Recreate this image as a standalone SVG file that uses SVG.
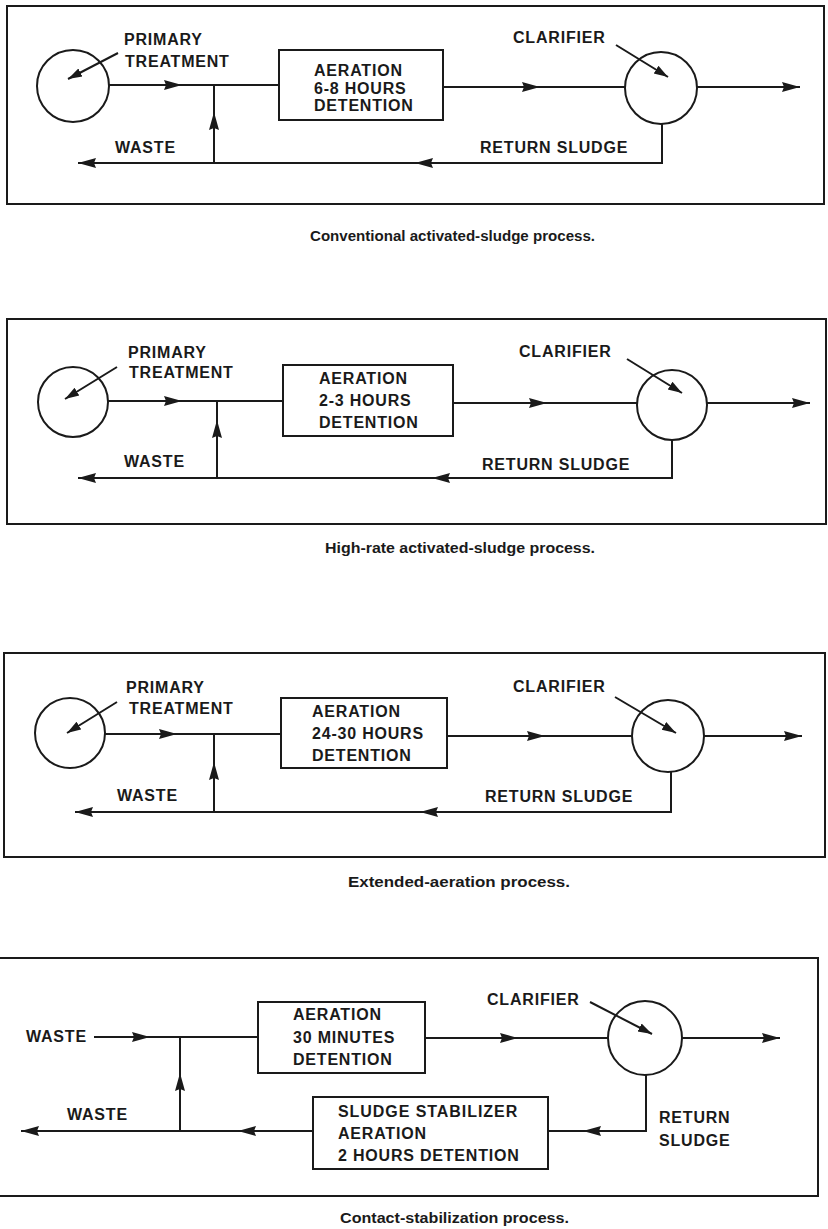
<svg xmlns="http://www.w3.org/2000/svg" xmlns:xlink="http://www.w3.org/1999/xlink" width="828" height="1229" viewBox="0 0 828 1229">
  <style>
    .frame { fill: none; stroke: #1a1a1a; stroke-width: 2; }
    .vessel { fill: #ffffff; stroke: #1a1a1a; stroke-width: 2; }
    .flow { fill: none; stroke: #1a1a1a; stroke-width: 2; }
    .ptr { fill: none; stroke: #1a1a1a; stroke-width: 2; marker-end: url(#ptrHead); }
    .end { marker-end: url(#flowHead); }
    .head { fill: #1a1a1a; }
    .lbl { font-family: "Liberation Sans", Arial, sans-serif; font-weight: bold; font-size: 16px; letter-spacing: 0.8px; fill: #1a1a1a; }
    .cap { font-family: "Liberation Sans", Arial, sans-serif; font-weight: bold; font-size: 14px; fill: #1a1a1a; }
  </style>
  <defs>
    <!-- flow-direction head, tip at the origin, pointing +x -->
    <path id="ah" d="M0,0 L-18,-5 L-16,0 L-18,5 Z"/>
    <marker id="flowHead" markerUnits="userSpaceOnUse" markerWidth="19" markerHeight="11" refX="18" refY="5.5" orient="auto">
      <path d="M0,0.5 L18,5.5 L0,10.5 L2,5.5 Z" fill="#1a1a1a"/>
    </marker>
    <marker id="ptrHead" markerUnits="userSpaceOnUse" markerWidth="15" markerHeight="11" refX="14" refY="5.5" orient="auto">
      <path d="M0,1 L14,5.5 L0,10 Z" fill="#1a1a1a"/>
    </marker>
  </defs>
  <rect width="828" height="1229" fill="#ffffff"/>

  <!-- ===== Conventional activated-sludge process ===== -->
  <g id="conventional">
    <rect class="frame" x="7" y="6" width="817" height="198"/>
    <g id="conv-primary">
      <circle class="vessel" cx="73" cy="86" r="36"/>
      <text class="lbl" x="124" y="45">PRIMARY</text>
      <text class="lbl" x="125" y="67">TREATMENT</text>
      <line class="ptr" x1="118" y1="53" x2="68" y2="79"/>
    </g>
    <g id="conv-aeration">
      <rect class="vessel" x="279" y="50" width="164" height="70"/>
      <text class="lbl" x="314" y="76">AERATION</text>
      <text class="lbl" x="314" y="93.5">6-8 HOURS</text>
      <text class="lbl" x="314" y="111">DETENTION</text>
    </g>
    <g id="conv-clarifier">
      <circle class="vessel" cx="661" cy="88" r="36"/>
      <text class="lbl" x="513" y="43">CLARIFIER</text>
      <line class="ptr" x1="616" y1="45" x2="668" y2="77"/>
    </g>
    <g id="conv-connectors">
      <line class="flow" x1="109" y1="85" x2="279" y2="85"/>
      <use href="#ah" class="head" transform="translate(182,85)"/>
      <line class="flow" x1="214" y1="163" x2="214" y2="85"/>
      <use href="#ah" class="head" transform="translate(214,112) rotate(-90)"/>
      <line class="flow" x1="443" y1="87" x2="625" y2="87"/>
      <use href="#ah" class="head" transform="translate(540,87)"/>
      <line class="flow end" x1="697" y1="87" x2="800" y2="87"/>
      <polyline class="flow end" points="662,124 662,163 78,163"/>
      <use href="#ah" class="head" transform="translate(415,163) rotate(180)"/>
      <text class="lbl" x="115" y="153">WASTE</text>
      <text class="lbl" x="480" y="153">RETURN SLUDGE</text>
    </g>
    <text class="cap" x="310" y="241" textLength="285" lengthAdjust="spacingAndGlyphs">Conventional activated-sludge process.</text>
  </g>

  <!-- ===== High-rate activated-sludge process ===== -->
  <g id="high-rate">
    <rect class="frame" x="7" y="319" width="819" height="205"/>
    <g id="hr-primary">
      <circle class="vessel" cx="73" cy="402" r="35"/>
      <text class="lbl" x="128" y="358">PRIMARY</text>
      <text class="lbl" x="129" y="378">TREATMENT</text>
      <line class="ptr" x1="117" y1="367" x2="65" y2="399"/>
    </g>
    <g id="hr-aeration">
      <rect class="vessel" x="283" y="365" width="170" height="71"/>
      <text class="lbl" x="319" y="384">AERATION</text>
      <text class="lbl" x="319" y="406">2-3 HOURS</text>
      <text class="lbl" x="319" y="428">DETENTION</text>
    </g>
    <g id="hr-clarifier">
      <circle class="vessel" cx="672" cy="405" r="35"/>
      <text class="lbl" x="519" y="357">CLARIFIER</text>
      <line class="ptr" x1="627" y1="359" x2="682" y2="393"/>
    </g>
    <g id="hr-connectors">
      <line class="flow" x1="108" y1="401" x2="283" y2="401"/>
      <use href="#ah" class="head" transform="translate(182,401)"/>
      <line class="flow" x1="217" y1="478" x2="217" y2="401"/>
      <use href="#ah" class="head" transform="translate(217,420) rotate(-90)"/>
      <line class="flow" x1="453" y1="403" x2="637" y2="403"/>
      <use href="#ah" class="head" transform="translate(547,403)"/>
      <line class="flow end" x1="707" y1="403" x2="810" y2="403"/>
      <polyline class="flow end" points="672,440 672,478 78,478"/>
      <use href="#ah" class="head" transform="translate(432,478) rotate(180)"/>
      <text class="lbl" x="124" y="467">WASTE</text>
      <text class="lbl" x="482" y="470">RETURN SLUDGE</text>
    </g>
    <text class="cap" x="325" y="553" textLength="270" lengthAdjust="spacingAndGlyphs">High-rate activated-sludge process.</text>
  </g>

  <!-- ===== Extended-aeration process ===== -->
  <g id="extended">
    <rect class="frame" x="4" y="653" width="821" height="204"/>
    <g id="ext-primary">
      <circle class="vessel" cx="70" cy="733" r="35"/>
      <text class="lbl" x="126" y="693">PRIMARY</text>
      <text class="lbl" x="129" y="714">TREATMENT</text>
      <line class="ptr" x1="117" y1="702" x2="67" y2="733"/>
    </g>
    <g id="ext-aeration">
      <rect class="vessel" x="281" y="698" width="166" height="70"/>
      <text class="lbl" x="312" y="717">AERATION</text>
      <text class="lbl" x="312" y="739">24-30 HOURS</text>
      <text class="lbl" x="312" y="761">DETENTION</text>
    </g>
    <g id="ext-clarifier">
      <circle class="vessel" cx="668" cy="736" r="36"/>
      <text class="lbl" x="513" y="692">CLARIFIER</text>
      <line class="ptr" x1="615" y1="697" x2="676" y2="733"/>
    </g>
    <g id="ext-connectors">
      <line class="flow" x1="105" y1="734" x2="281" y2="734"/>
      <use href="#ah" class="head" transform="translate(177,734)"/>
      <line class="flow" x1="214" y1="812" x2="214" y2="734"/>
      <use href="#ah" class="head" transform="translate(214,762) rotate(-90)"/>
      <line class="flow" x1="447" y1="736" x2="632" y2="736"/>
      <use href="#ah" class="head" transform="translate(545,736)"/>
      <line class="flow end" x1="704" y1="736" x2="802" y2="736"/>
      <polyline class="flow end" points="671,772 671,812 75,812"/>
      <use href="#ah" class="head" transform="translate(420,812) rotate(180)"/>
      <text class="lbl" x="117" y="801">WASTE</text>
      <text class="lbl" x="485" y="802">RETURN SLUDGE</text>
    </g>
    <text class="cap" x="348" y="887" textLength="222" lengthAdjust="spacingAndGlyphs">Extended-aeration process.</text>
  </g>

  <!-- ===== Contact-stabilization process ===== -->
  <g id="contact">
    <path class="frame" d="M0,958 H818 V1196 H0"/>
    <g id="cs-aeration">
      <rect class="vessel" x="258" y="1002" width="167" height="71"/>
      <text class="lbl" x="293" y="1020">AERATION</text>
      <text class="lbl" x="293" y="1043">30 MINUTES</text>
      <text class="lbl" x="293" y="1065">DETENTION</text>
    </g>
    <g id="cs-stabilizer">
      <rect class="vessel" x="313" y="1097" width="235" height="72"/>
      <text class="lbl" x="338" y="1117" textLength="180" lengthAdjust="spacing">SLUDGE STABILIZER</text>
      <text class="lbl" x="338" y="1139">AERATION</text>
      <text class="lbl" x="338" y="1161">2 HOURS DETENTION</text>
    </g>
    <g id="cs-clarifier">
      <circle class="vessel" cx="645" cy="1038" r="37"/>
      <text class="lbl" x="487" y="1005">CLARIFIER</text>
      <line class="ptr" x1="590" y1="1002" x2="652" y2="1034"/>
    </g>
    <g id="cs-connectors">
      <text class="lbl" x="26" y="1042">WASTE</text>
      <line class="flow" x1="94" y1="1037" x2="258" y2="1037"/>
      <use href="#ah" class="head" transform="translate(150,1037)"/>
      <line class="flow" x1="180" y1="1131" x2="180" y2="1037"/>
      <use href="#ah" class="head" transform="translate(180,1073) rotate(-90)"/>
      <line class="flow" x1="425" y1="1038" x2="608" y2="1038"/>
      <use href="#ah" class="head" transform="translate(518,1038)"/>
      <line class="flow end" x1="682" y1="1038" x2="780" y2="1038"/>
      <polyline class="flow" points="646,1075 646,1131 548,1131"/>
      <use href="#ah" class="head" transform="translate(583,1131) rotate(180)"/>
      <line class="flow end" x1="313" y1="1131" x2="21" y2="1131"/>
      <use href="#ah" class="head" transform="translate(238,1131) rotate(180)"/>
      <text class="lbl" x="67" y="1120">WASTE</text>
      <text class="lbl" x="659" y="1123">RETURN</text>
      <text class="lbl" x="659" y="1146">SLUDGE</text>
    </g>
    <text class="cap" x="340" y="1223" textLength="229" lengthAdjust="spacingAndGlyphs">Contact-stabilization process.</text>
  </g>
</svg>
